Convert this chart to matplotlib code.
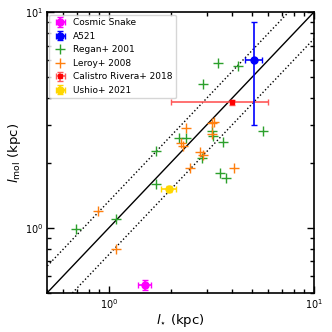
import matplotlib
matplotlib.use("Agg")
import matplotlib.pyplot as plt
import numpy as np

# Data
snake_x, snake_y = [1.50], [0.545]
snake_xerr, snake_yerr = [0.11], [0.03]

a521_x, a521_y = [5.1], [6.0]
a521_xerr, a521_yerr = [0.5], [3.0]

regan_x = [0.69, 1.09, 1.69, 1.69, 2.20, 2.39, 3.20, 3.22, 3.59, 2.86, 3.49, 3.72,
           3.40, 4.29, 2.89, 5.65]
regan_y = [0.99, 1.10, 2.28, 1.60, 2.61, 2.61, 2.82, 2.66, 2.50, 2.10, 1.80, 1.70,
           5.82, 5.61, 4.65, 2.80]

leroy_x = [0.89, 1.09, 2.39, 3.26, 3.18, 2.24, 2.31, 2.80, 2.89, 2.49, 4.08, 3.18]
leroy_y = [1.20, 0.80, 2.90, 3.11, 3.05, 2.47, 2.40, 2.26, 2.19, 1.90, 1.90, 2.72]

cal_x, cal_y = [4.0], [3.82]
cal_xerr, cal_yerr = [[2.0], [2.0]], [0.1]

ushio_x, ushio_y = [1.96], [1.51]
ushio_xerr, ushio_yerr = [0.17], [0.05]

line_factor = 1.33

fig = plt.figure(figsize=(3.32, 3.32), dpi=100)
ax = fig.add_axes([0.142, 0.118, 0.803, 0.845])

xx = np.array([0.3, 20])
ax.plot(xx, xx, color='black', lw=1.0, zorder=1)
ax.plot(xx, xx * line_factor, color='black', lw=1.0, ls=':', zorder=1)
ax.plot(xx, xx / line_factor, color='black', lw=1.0, ls=':', zorder=1)

h1 = ax.errorbar(snake_x, snake_y, xerr=snake_xerr, yerr=snake_yerr, fmt='o', color='magenta',
                 ms=5, capsize=2, elinewidth=1.2, label='Cosmic Snake', zorder=5)
h2 = ax.errorbar(a521_x, a521_y, xerr=a521_xerr, yerr=a521_yerr, fmt='o', color='blue',
                 ms=5, capsize=2, elinewidth=1.2, label='A521', zorder=5)
h3, = ax.plot(regan_x, regan_y, '+', color='#2ca02c', ms=7, mew=1.0, label='Regan+ 2001', zorder=3)
h4, = ax.plot(leroy_x, leroy_y, '+', color='#ff7f0e', ms=7, mew=1.0, label='Leroy+ 2008', zorder=3)
h5 = ax.errorbar(cal_x, cal_y, xerr=cal_xerr, yerr=cal_yerr, fmt='s', color='red', ms=3.5,
                 capsize=2, elinewidth=1.2, ecolor=(1, 0.35, 0.35), label='Calistro Rivera+ 2018', zorder=4)
h6 = ax.errorbar(ushio_x, ushio_y, xerr=ushio_xerr, yerr=ushio_yerr, fmt='o', color='#FFD700',
                 ms=5, capsize=2, elinewidth=1.2, label='Ushio+ 2021', zorder=5)

ax.set_xscale('log')
ax.set_yscale('log')
ax.set_xlim(0.5, 10)
ax.set_ylim(0.5, 10)

ax.tick_params(which='both', direction='in', top=True, right=True, labelsize=7, pad=3)
ax.tick_params(which='major', length=5, width=1)
ax.tick_params(which='minor', length=3, width=1)
for s in ax.spines.values():
    s.set_linewidth(1.2)

ax.set_xlabel(r'$l_{\star}$ (kpc)', fontsize=9.5, labelpad=1)
ax.set_ylabel(r'$l_{\rm mol}$ (kpc)', fontsize=9.5, labelpad=1)

handles = [h1, h2, h3, h4, h5, h6]
ax.legend(handles, [h.get_label() for h in handles], loc='upper left', fontsize=6.5,
          handlelength=1.6, borderpad=0.4, labelspacing=0.5, handletextpad=0.6,
          borderaxespad=0.25)

fig.savefig('out.png', dpi=100)
